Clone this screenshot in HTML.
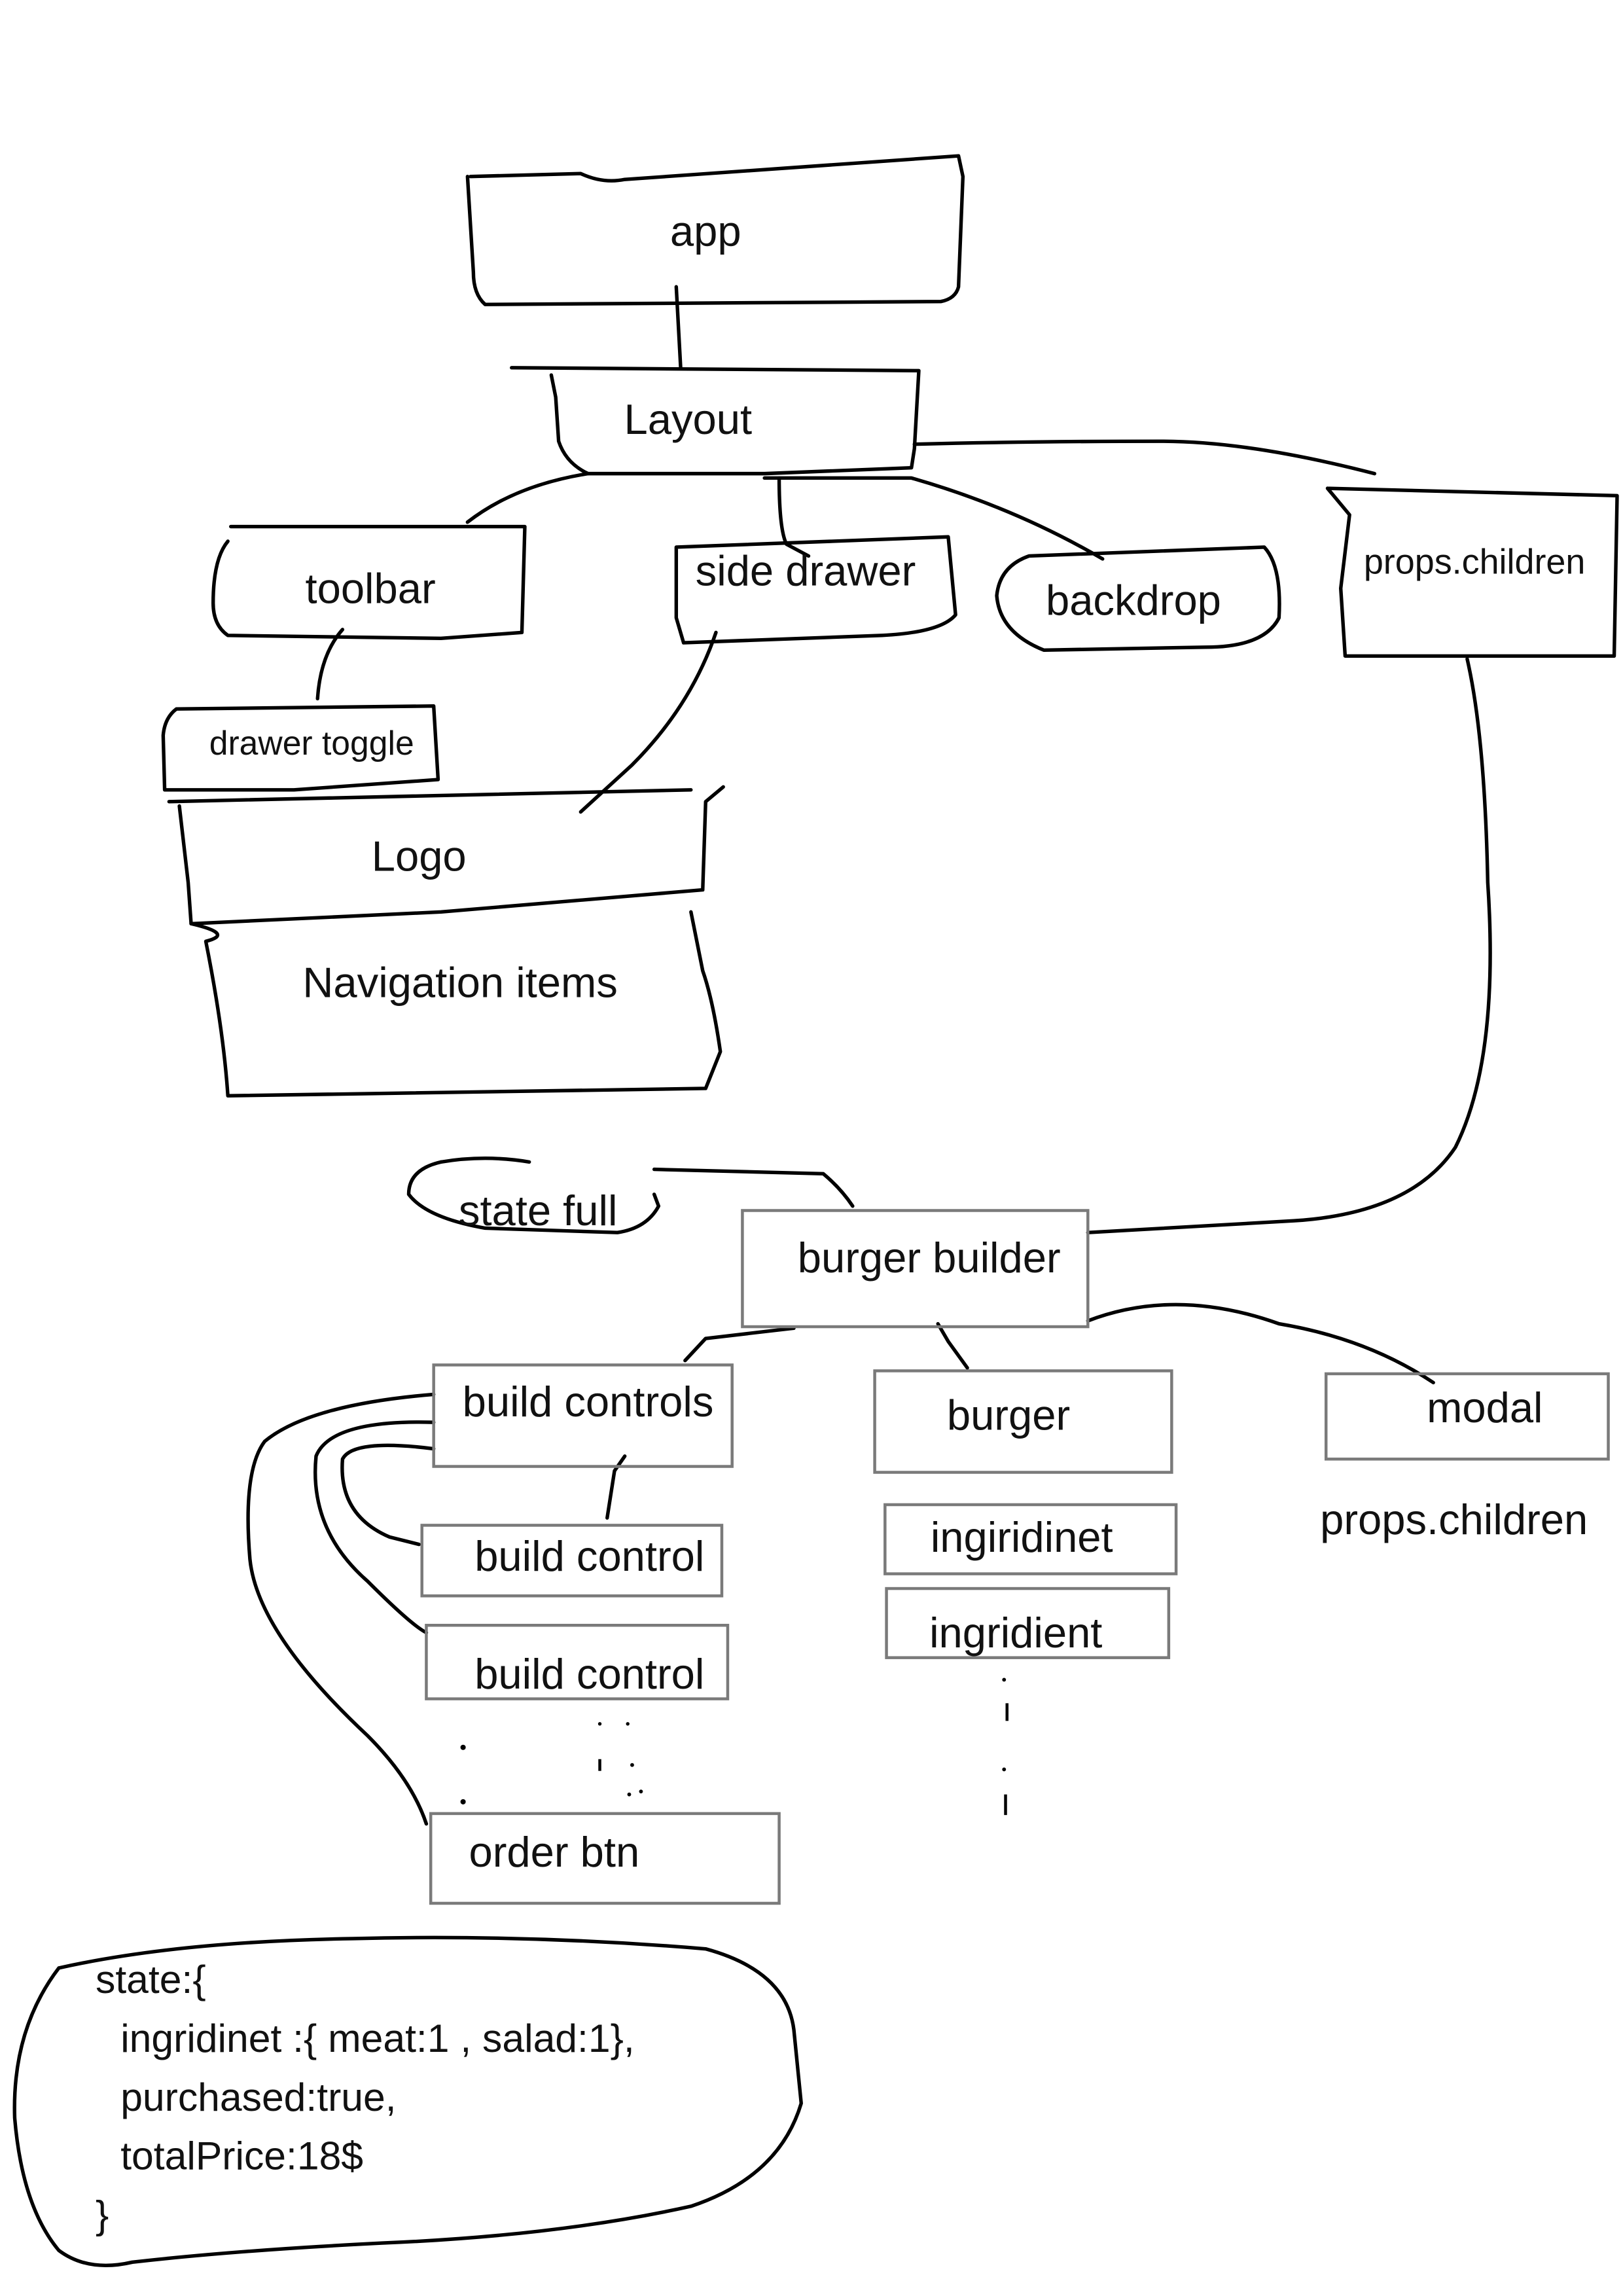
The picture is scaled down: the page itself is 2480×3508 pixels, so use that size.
<!DOCTYPE html>
<html><head><meta charset="utf-8"><style>
html,body{margin:0;padding:0;background:#fff;}
svg{display:block;}
text{font-family:"Liberation Sans",sans-serif;fill:#111;}
</style></head><body>
<svg width="2480" height="3508" viewBox="0 0 1104 1561" preserveAspectRatio="none" xmlns="http://www.w3.org/2000/svg">
<g fill="none" stroke="#000" stroke-width="2.4" stroke-linecap="round" stroke-linejoin="round">
<!-- app -->
<path d="M320,120 L395,118 Q410,125 425,122 L652,106 L655,120 L652,195 Q650,203 640,205 L330,207 Q322,200 322,185 L318,120"/>
<path d="M460,195 L463,250"/>
<!-- Layout -->
<path d="M348,250 L625,252 L622,305 L620,318 L520,322 L400,322 Q385,315 380,300 L378,270 L375,255"/>
<path d="M622,302 Q700,300 790,300 Q850,300 935,322"/>
<!-- props.children box -->
<path d="M903,332 L1100,337 L1098,446 L915,446 L912,400 L918,350 L903,332"/>
<path d="M998,448 Q1010,500 1012,600 Q1020,720 990,780 Q960,825 880,830 L740,838"/>
<!-- toolbar -->
<path d="M157,358 L357,358 L355,430 L300,434 L155,432 Q145,425 145,410 Q145,380 155,368"/>
<path d="M400,322 Q350,330 318,355"/>
<path d="M233,428 Q218,445 216,475"/>
<!-- side drawer -->
<path d="M530,325 Q530,360 535,370 L550,378"/>
<path d="M460,372 L645,365 L650,418 Q640,430 600,432 L465,437 L460,420 Z"/>
<path d="M520,325 L620,325 Q690,345 750,380"/>
<!-- backdrop -->
<path d="M700,378 L860,372 Q872,385 870,420 Q860,440 820,440 L710,442 Q680,430 678,405 Q680,385 700,378"/>
<!-- drawer toggle -->
<path d="M120,482 L295,480 L298,530 L200,537 L112,537 L111,500 Q112,488 120,482"/>
<!-- Logo -->
<path d="M115,545 L470,537"/>
<path d="M122,548 L128,600 L130,628 L300,620 L478,605 L480,545 L492,535"/>
<path d="M487,430 Q470,480 430,520 L395,552"/>
<!-- Navigation -->
<path d="M130,628 Q160,635 140,640 Q152,700 155,745 L480,740 L490,715 Q485,680 478,660 L470,620"/>
<!-- state full -->
<path d="M300,790 Q278,795 278,812 Q290,828 330,835 L420,838 Q440,835 448,820 L445,812"/>
<path d="M300,790 Q330,785 360,790"/>
<path d="M445,795 L560,798 Q572,808 580,820"/>
<!-- bb lines -->
<path d="M540,903 L480,910 L466,925"/>
<path d="M638,900 L645,912 L658,930"/>
<path d="M740,898 Q800,875 870,900 Q930,910 975,940"/>
<path d="M425,990 L418,1000 L413,1032"/>
<!-- curves -->
<path d="M295,948 Q210,955 180,980 Q165,1000 170,1060 Q175,1110 250,1180 Q280,1210 290,1240"/>
<path d="M295,967 Q225,965 215,990 Q210,1040 250,1075 Q280,1105 290,1110"/>
<path d="M295,985 Q240,978 233,992 Q230,1030 265,1045 L285,1050"/>
<!-- state blob -->
<path d="M40,1338 Q120,1320 240,1318 Q360,1315 480,1325 Q535,1340 540,1380 L545,1430 Q530,1480 470,1500 Q380,1520 260,1525 Q160,1530 90,1538 Q60,1545 40,1530 Q15,1500 10,1440 Q8,1380 40,1338"/>
</g>
<g fill="none" stroke="#7a7a7a" stroke-width="2">
<rect x="505" y="823" width="235" height="79"/>
<rect x="295" y="928" width="203" height="69"/>
<rect x="595" y="932" width="202" height="69"/>
<rect x="902" y="934" width="192" height="58"/>
<rect x="602" y="1023" width="198" height="47"/>
<rect x="603" y="1080" width="192" height="47"/>
<rect x="287" y="1037" width="204" height="48"/>
<rect x="290" y="1105" width="205" height="50"/>
<rect x="293" y="1233" width="237" height="61"/>
</g>
<g fill="#000">
<circle cx="683" cy="1142" r="1.3"/><rect x="684" y="1158" width="2" height="12"/>
<circle cx="683" cy="1203" r="1.3"/><rect x="683" y="1220" width="2" height="14"/>
<circle cx="315" cy="1188" r="1.8"/><circle cx="315" cy="1225" r="1.8"/>
<circle cx="408" cy="1172" r="1.2"/><circle cx="427" cy="1172" r="1.2"/>
<rect x="407" y="1196" width="2" height="8"/><circle cx="430" cy="1200" r="1.3"/>
<circle cx="428" cy="1220" r="1.3"/><circle cx="436" cy="1218" r="1.3"/>
</g>
<g font-size="29" text-anchor="middle">
<text x="480" y="167">app</text>
<text x="468" y="295">Layout</text>
<text x="252" y="410">toolbar</text>
<text x="548" y="398">side drawer</text>
<text x="771" y="418">backdrop</text>
<text x="1003" y="390" font-size="24">props.children</text>
<text x="212" y="513" font-size="23">drawer toggle</text>
<text x="285" y="592">Logo</text>
<text x="313" y="678">Navigation items</text>
<text x="366" y="833">state full</text>
<text x="632" y="865">burger builder</text>
<text x="400" y="963">build controls</text>
<text x="686" y="972">burger</text>
<text x="1010" y="967">modal</text>
<text x="989" y="1043">props.children</text>
<text x="695" y="1055">ingiridinet</text>
<text x="691" y="1120">ingridient</text>
<text x="401" y="1068">build control</text>
<text x="401" y="1148">build control</text>
<text x="377" y="1269">order btn</text>
</g>
<g font-size="27">
<text x="65" y="1355">state:{</text>
<text x="82" y="1395">ingridinet :{ meat:1 , salad:1},</text>
<text x="82" y="1435">purchased:true,</text>
<text x="82" y="1475">totalPrice:18$</text>
<text x="65" y="1515">}</text>
</g>
</svg>
</body></html>
